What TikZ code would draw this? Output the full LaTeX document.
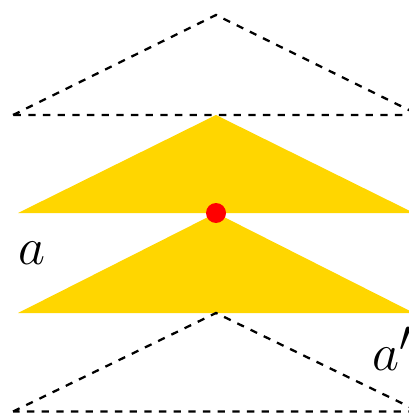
\documentclass[tikz,border=0pt]{standalone}
\definecolor{goldy}{RGB}{255,214,0}
\begin{document}
\begin{tikzpicture}[x=0.75pt,y=-0.75pt,
  dsh/.style={draw=black,line width=1.7pt,dash pattern=on 5.5pt off 5.5pt},
  lbl/.style={font=\Huge,inner sep=0pt,scale=1.58}]
\useasboundingbox (0,0) rectangle (409,413);
\clip (0,0) rectangle (409,413);
% top dashed triangle
\coordinate (t1) at (216,15);
\coordinate (t2) at (13,115);
\coordinate (t3) at (419,115);
\draw[dsh] (t2) -- (t1) -- (t3) -- cycle;
% yellow triangles
\coordinate (y1) at (216,115);
\coordinate (y2) at (18,213);
\coordinate (y3) at (414,213);
\fill[goldy] (y1) -- (y2) -- (y3) -- cycle;
\coordinate (z1) at (216,213);
\coordinate (z2) at (18,313);
\coordinate (z3) at (414,313);
\fill[goldy] (z1) -- (z2) -- (z3) -- cycle;
% bottom dashed triangle
\coordinate (b1) at (216,313);
\coordinate (b2) at (13,411.5);
\coordinate (b3) at (419,411.5);
\draw[dsh] (b2) -- (b1) -- (b3) -- cycle;
% red point
\node[circle,fill=red,inner sep=0pt,minimum size=15pt] (p) at (216,213) {};
% labels
\node[lbl] (la) at (32,253) {$a$};
\node[lbl,anchor=west] (lb) at (372,349) {$a'$};
\end{tikzpicture}
\end{document}
